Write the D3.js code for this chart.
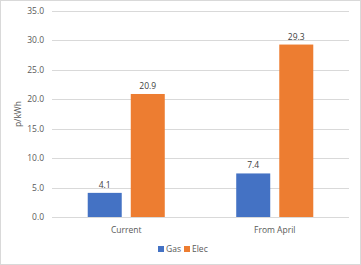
<!DOCTYPE html>
<html>
<head>
<meta charset="utf-8">
<script src="https://cdn.jsdelivr.net/npm/d3@7"></script>
<style>
  body { margin: 0; background: #fff; }
  svg { display: block; font-family: "Open Sans", "Liberation Sans", sans-serif; }
</style>
</head>
<body>
<div id="chart"></div>
<script>
// ----- DATA -----
const categories = ["Current", "From April"];
const seriesNames = ["Gas", "Elec"];
const gasValues = [4.1, 7.4];
const elecValues = [20.9, 29.3];
const yTicks = [0, 5, 10, 15, 20, 25, 30, 35];

const colors = { Gas: "#4472c4", Elec: "#ed7d31" };

const W = 361, H = 265;
const margin = { top: 11, right: 12, bottom: 48, left: 52 };
const fs = 8.5;

const svg = d3.select("#chart").append("svg")
    .attr("width", W)
    .attr("height", H);

// chart border
svg.append("rect")
    .attr("x", 0.5).attr("y", 0.5)
    .attr("width", W - 1).attr("height", H - 1)
    .attr("fill", "#fff")
    .attr("stroke", "#d9d9d9");

const x0 = d3.scaleBand()
    .domain(categories)
    .range([margin.left, W - margin.right]);

const x1 = d3.scaleBand()
    .domain(seriesNames)
    .range([0, x0.bandwidth()])
    .paddingInner(0.21)
    .paddingOuter(0.83);

const y = d3.scaleLinear()
    .domain([0, 35])
    .range([H - margin.bottom, margin.top]);

// gridlines
svg.append("g")
    .selectAll("line")
    .data(yTicks)
    .join("line")
    .attr("x1", margin.left)
    .attr("x2", W - margin.right)
    .attr("y1", d => Math.round(y(d)) + 0.5)
    .attr("y2", d => Math.round(y(d)) + 0.5)
    .attr("stroke", "#d9d9d9");

// y axis tick labels
svg.append("g")
    .selectAll("text")
    .data(yTicks)
    .join("text")
    .attr("x", margin.left - 8)
    .attr("y", d => y(d))
    .attr("dy", "0.35em")
    .attr("text-anchor", "end")
    .attr("font-size", fs)
    .attr("fill", "#595959")
    .text(d => d.toFixed(1));

// y axis title
svg.append("text")
    .attr("transform", `translate(18,${(margin.top + H - margin.bottom) / 2}) rotate(-90)`)
    .attr("text-anchor", "middle")
    .attr("dy", "0.35em")
    .attr("font-size", fs)
    .attr("fill", "#595959")
    .text("p/kWh");

// bars
const rows = categories.map((c, i) => ({
    cat: c,
    vals: [{ key: "Gas", v: gasValues[i] }, { key: "Elec", v: elecValues[i] }]
}));

const groups = svg.append("g")
    .selectAll("g")
    .data(rows)
    .join("g")
    .attr("transform", d => `translate(${x0(d.cat)},0)`);

groups.selectAll("rect")
    .data(d => d.vals)
    .join("rect")
    .attr("x", d => x1(d.key))
    .attr("width", x1.bandwidth())
    .attr("y", d => y(d.v))
    .attr("height", d => y(0) - y(d.v))
    .attr("fill", d => colors[d.key]);

groups.selectAll("text")
    .data(d => d.vals)
    .join("text")
    .attr("x", d => x1(d.key) + x1.bandwidth() / 2)
    .attr("y", d => y(d.v) - 5)
    .attr("text-anchor", "middle")
    .attr("font-size", fs)
    .attr("fill", "#404040")
    .text(d => d.v.toFixed(1));

// category labels
svg.append("g")
    .selectAll("text")
    .data(categories)
    .join("text")
    .attr("x", d => x0(d) + x0.bandwidth() / 2)
    .attr("y", H - margin.bottom + 13)
    .attr("dy", "0.35em")
    .attr("text-anchor", "middle")
    .attr("font-size", fs)
    .attr("fill", "#595959")
    .text(d => d);

// legend
const legendX = [158, 184];
const legend = svg.append("g")
    .selectAll("g")
    .data(seriesNames)
    .join("g")
    .attr("transform", (d, i) => `translate(${legendX[i]},${H - 16})`);

legend.append("rect")
    .attr("x", 0).attr("y", -3)
    .attr("width", 6).attr("height", 6)
    .attr("fill", d => colors[d]);

legend.append("text")
    .attr("x", 8)
    .attr("dy", "0.35em")
    .attr("font-size", fs)
    .attr("fill", "#595959")
    .text(d => d);
</script>
</body>
</html>
